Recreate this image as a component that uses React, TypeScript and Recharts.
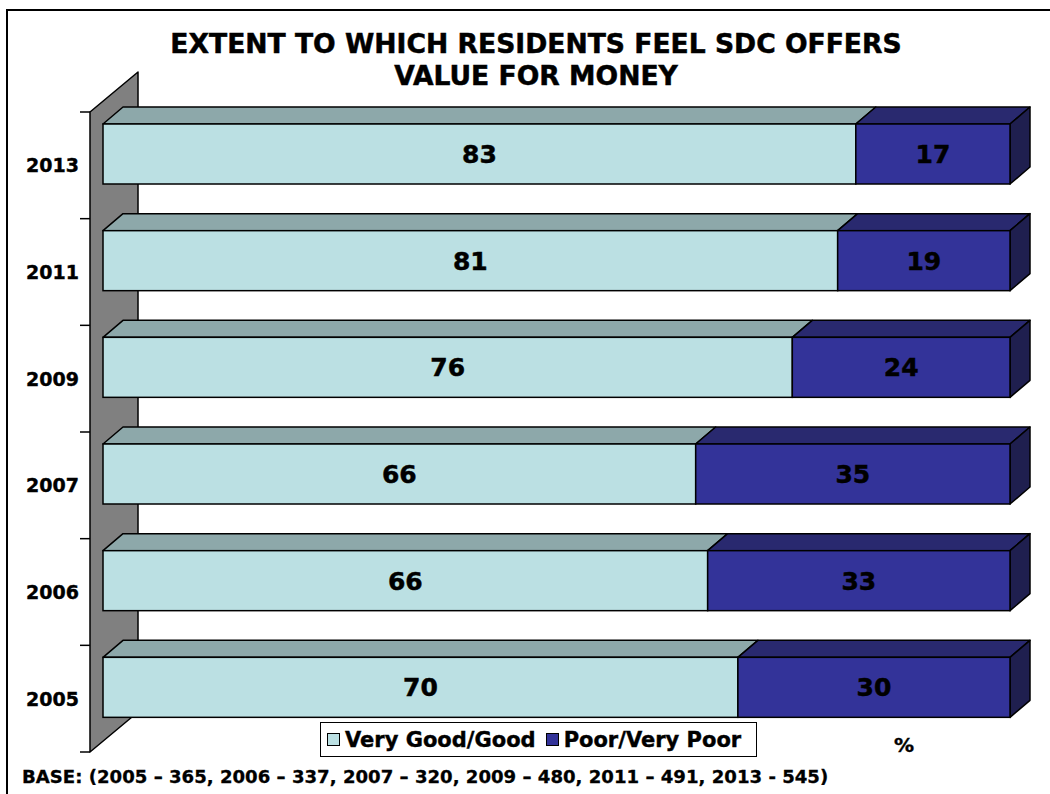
import React from 'react';
import * as R from 'recharts';

const { BarChart, Bar, XAxis, YAxis, LabelList, Customized } = R as any;

// ---------- data ----------
const years = ['2013', '2011', '2009', '2007', '2006', '2005'];
const goodValues = [83, 81, 76, 66, 66, 70];
const poorValues = [17, 19, 24, 35, 33, 30];
const seriesNames = ['Very Good/Good', 'Poor/Very Poor'];
const titleLines = ['EXTENT TO WHICH RESIDENTS FEEL SDC OFFERS', 'VALUE FOR MONEY'];
const unitLabel = '%';
const baseNote = 'BASE: (2005 – 365, 2006 – 337, 2007 – 320, 2009 – 480, 2011 – 491, 2013 - 545)';

const data = years.map((y, i) => ({ year: y, good: goodValues[i], poor: poorValues[i] }));

// ---------- styles ----------
const W = 1050;
const H = 794;
const MARGIN = { top: 101, right: 40, bottom: 53, left: 23 };
const YAXIS_W = 80;
const FONT = '"DejaVu Sans", Verdana, sans-serif';

const LIGHT = { front: '#BBE0E3', top: '#8DA8AA', side: '#7A9496' };
const DARK = { front: '#333399', top: '#29296F', side: '#1F1F4F' };
const WALL = '#808080';
const DX = 20;
const DY = -17;
const WALL_FRONT = -13;
const WALL_BACK = 35;
const WALL_SHIFT = 11;
const WALL_RISE = 40;

const makeShape = (c: { front: string; top: string; side: string }, withSide: boolean) => (p: any) => {
  const { x, y, width, height } = p;
  if (width == null || height == null) return null;
  const sw = 1.5;
  return (
    <g>
      <polygon
        points={`${x},${y} ${x + DX},${y + DY} ${x + width + DX},${y + DY} ${x + width},${y}`}
        fill={c.top}
        stroke="#000"
        strokeWidth={sw}
        strokeLinejoin="round"
      />
      {withSide && (
        <polygon
          points={`${x + width},${y} ${x + width + DX},${y + DY} ${x + width + DX},${y + height + DY} ${x + width},${y + height}`}
          fill={c.side}
          stroke="#000"
          strokeWidth={sw}
          strokeLinejoin="round"
        />
      )}
      <rect x={x} y={y} width={width} height={height} fill={c.front} stroke="#000" strokeWidth={sw} />
    </g>
  );
};

const lightShape = makeShape(LIGHT, false);
const darkShape = makeShape(DARK, true);

const useArea: any = (R as any).usePlotArea;

function Wall() {
  const area = useArea ? useArea() : null;
  const px = area ? area.x : MARGIN.left + YAXIS_W;
  const py = area ? area.y : MARGIN.top;
  const ph = area ? area.height : H - MARGIN.top - MARGIN.bottom;
  const fx = px + WALL_FRONT;
  const bx = px + WALL_BACK;
  const top = py + WALL_SHIFT;
  const bot = py + ph + WALL_SHIFT;
  const band = ph / years.length;
  const ticks = [];
  for (let i = 0; i <= years.length; i++) {
    const ty = top + i * band;
    ticks.push(<line key={i} x1={fx - 10} x2={fx} y1={ty} y2={ty} stroke="#000" strokeWidth={1.5} />);
  }
  return (
    <g>
      <polygon
        points={`${fx},${top} ${bx},${top - WALL_RISE} ${bx},${bot - WALL_RISE} ${fx},${bot}`}
        fill={WALL}
        stroke="#000"
        strokeWidth={1.5}
        strokeLinejoin="round"
      />
      {ticks}
    </g>
  );
}

const YearTick = (p: any) => {
  const { x, y, payload } = p;
  return (
    <text
      x={x - 16}
      y={y + WALL_SHIFT + 7}
      textAnchor="end"
      fontFamily={FONT}
      fontWeight="bold"
      fontSize={19}
      fill="#000"
      stroke="#000"
      strokeWidth={0.4}
    >
      {payload.value}
    </text>
  );
};

const ValueLabel = (p: any) => {
  const { x, y, width, height, value } = p;
  return (
    <text
      x={x + width / 2}
      y={y + height / 2 + 9}
      textAnchor="middle"
      fontFamily={FONT}
      fontWeight="bold"
      fontSize={25}
      fill="#000"
      stroke="#000"
      strokeWidth={0.5}
    >
      {value}
    </text>
  );
};

const LegendBox = () => {
  const colors = [LIGHT.front, DARK.front];
  return (
    <div
      style={{
        position: 'absolute',
        left: 320,
        top: 722,
        width: 437,
        height: 35,
        boxSizing: 'border-box',
        border: '1.5px solid #000',
        background: '#fff',
        display: 'flex',
        alignItems: 'center',
        fontFamily: FONT,
        fontWeight: 'bold',
        fontSize: 21,
        color: '#000',
        whiteSpace: 'nowrap',
        WebkitTextStroke: '0.4px #000',
      }}
    >
      {seriesNames.map((n, i) => (
        <span key={n} style={{ display: 'flex', alignItems: 'center', marginLeft: i === 0 ? 6 : 10 }}>
          <span
            style={{
              display: 'inline-block',
              width: 11,
              height: 11,
              background: colors[i],
              border: '1px solid #000',
              marginRight: 5,
            }}
          />
          {n}
        </span>
      ))}
    </div>
  );
};

export default function App() {
  return (
    <div style={{ position: 'absolute', left: 0, top: 0, width: W, height: H, overflow: 'hidden', background: '#fff' }}>
      <div
        style={{
          position: 'absolute',
          left: 6,
          top: 9,
          width: W,
          height: H,
          border: '2px solid #000',
        }}
      />
      <div
        style={{
          position: 'absolute',
          left: 0,
          top: 28,
          width: 1072,
          textAlign: 'center',
          fontFamily: FONT,
          fontWeight: 'bold',
          fontSize: 26.6,
          lineHeight: '32px',
          color: '#000',
          WebkitTextStroke: '0.5px #000',
        }}
      >
        {titleLines.map((t) => (
          <div key={t}>{t}</div>
        ))}
      </div>
      <div style={{ position: 'absolute', left: 0, top: 0 }}>
        <BarChart
          width={W}
          height={H}
          data={data}
          layout="vertical"
          stackOffset="expand"
          margin={MARGIN}
          barSize={60}
        >
          <Customized component={<Wall />} />
          <XAxis type="number" domain={[0, 1]} hide />
          <YAxis
            type="category"
            dataKey="year"
            width={YAXIS_W}
            axisLine={false}
            tickLine={false}
            tick={<YearTick />}
            interval={0}
          />
          <Bar dataKey="good" name={seriesNames[0]} stackId="a" fill={LIGHT.front} shape={lightShape} isAnimationActive={false}>
            <LabelList dataKey="good" content={<ValueLabel />} />
          </Bar>
          <Bar dataKey="poor" name={seriesNames[1]} stackId="a" fill={DARK.front} shape={darkShape} isAnimationActive={false}>
            <LabelList dataKey="poor" content={<ValueLabel />} />
          </Bar>
        </BarChart>
      </div>
      <LegendBox />
      <div
        style={{
          position: 'absolute',
          left: 894,
          top: 733,
          fontFamily: FONT,
          fontWeight: 'bold',
          fontSize: 20,
          color: '#000',
          WebkitTextStroke: '0.4px #000',
        }}
      >
        {unitLabel}
      </div>
      <div
        style={{
          position: 'absolute',
          left: 22,
          top: 766,
          fontFamily: FONT,
          fontWeight: 'bold',
          fontSize: 18.1,
          color: '#000',
          whiteSpace: 'nowrap',
          WebkitTextStroke: '0.3px #000',
        }}
      >
        {baseNote}
      </div>
    </div>
  );
}
